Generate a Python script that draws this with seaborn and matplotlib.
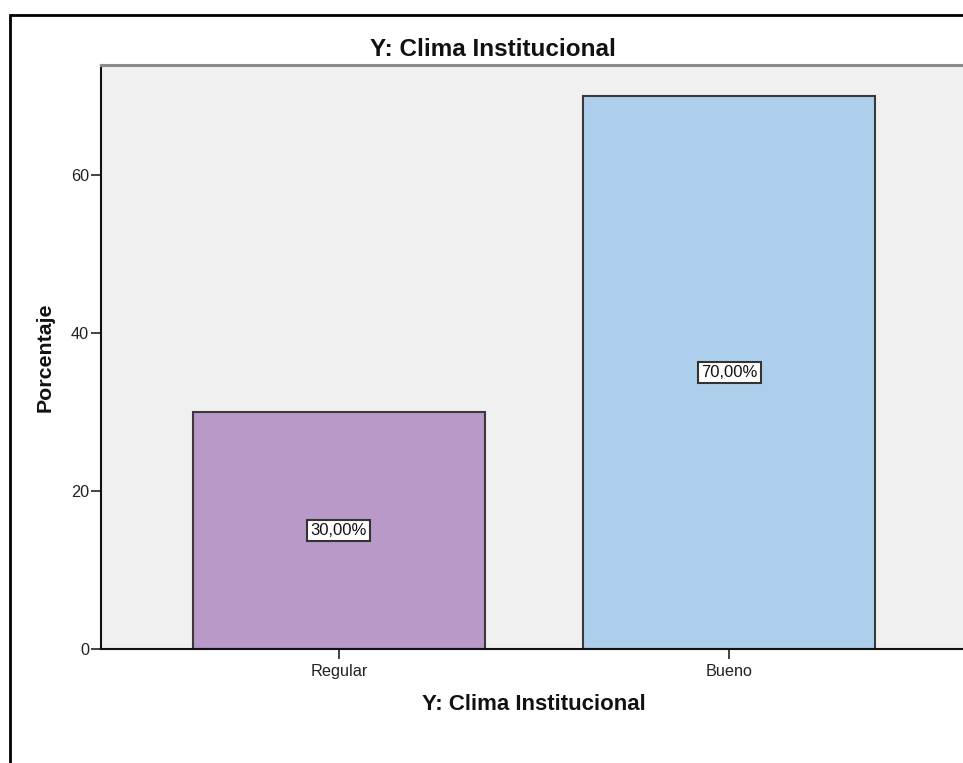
import matplotlib
matplotlib.use("Agg")
import matplotlib.pyplot as plt
import matplotlib.patches as mpatches
import seaborn as sns
import pandas as pd

# ---- data ----
categories = ["Regular", "Bueno"]
percentages = [30.0, 70.0]
bar_labels = ["30,00%", "70,00%"]
bar_colors = ["#B899C8", "#AECFEC"]
yticks = [0, 20, 40, 60]
title_text = "Y: Clima Institucional"
xlabel_text = "Y: Clima Institucional"
ylabel_text = "Porcentaje"

df = pd.DataFrame({"cat": categories, "pct": percentages})

sns.set_style("white")
plt.rcParams["font.family"] = ["Liberation Sans", "DejaVu Sans"]

W, H = 963, 763
fig = plt.figure(figsize=(W / 100, H / 100), dpi=100)
fig.patch.set_facecolor("white")

# axes: left 101px, right ~967px (cut by the figure edge), top 65px, bottom 649px
ax = fig.add_axes([101 / W, (H - 649) / H, (967 - 101) / W, (649 - 65) / H])
ax.set_facecolor("#F0F0F0")

sns.barplot(data=df, x="cat", y="pct", hue="cat", palette=bar_colors,
            order=categories, hue_order=categories, legend=False,
            width=0.75, edgecolor="#3A3A3A", linewidth=1.5, ax=ax,
            saturation=1)

for cont, lab in zip(ax.containers, bar_labels):
    ax.bar_label(cont, labels=[lab], label_type="center", fontsize=12,
                 color="#111111",
                 bbox=dict(facecolor="white", edgecolor="#333333",
                           boxstyle="square,pad=0.2", linewidth=1.5))

ax.set_xlim(-0.61, 1.61)
ax.set_ylim(0, 73.9)
ax.set_yticks(yticks)
ax.set_yticklabels([str(v) for v in yticks])

ax.tick_params(axis="both", direction="out", length=7.5, width=1.2,
               color="#222222", labelsize=11.7, labelcolor="#222222",
               bottom=True, left=True, top=False, right=False)
ax.tick_params(axis="y", pad=1)
ax.tick_params(axis="x", pad=3)

for s in ["left", "bottom"]:
    ax.spines[s].set_color("#111111")
    ax.spines[s].set_linewidth(1.5)
ax.spines["top"].set_color("#8A8A8A")
ax.spines["top"].set_linewidth(2.2)
ax.spines["right"].set_visible(False)

# labels
ax.set_title(title_text, fontsize=17.5, fontweight="bold", color="#111111",
             x=(493 - 101) / 866, y=(649 - 56) / 584, va="baseline", pad=0)
ax.set_xlabel(xlabel_text, fontsize=16, fontweight="bold", color="#111111")
ax.xaxis.set_label_coords(0.5, -(710 - 649) / 584)
ax.xaxis.label.set_va("baseline")
ax.set_ylabel(ylabel_text, fontsize=15.4, fontweight="bold", color="#111111")
ax.yaxis.set_label_coords(-(101 - 45) / 866, 0.5)
ax.yaxis.label.set_va("center")

# outer frame (extends past right and bottom edges)
frame = mpatches.Rectangle((10 / W, -0.2), 1.2, (H - 15) / H + 0.2,
                           transform=fig.transFigure, fill=False,
                           edgecolor="black", linewidth=2.0, clip_on=False)
fig.patches.append(frame)

fig.savefig("out.png", dpi=100)
